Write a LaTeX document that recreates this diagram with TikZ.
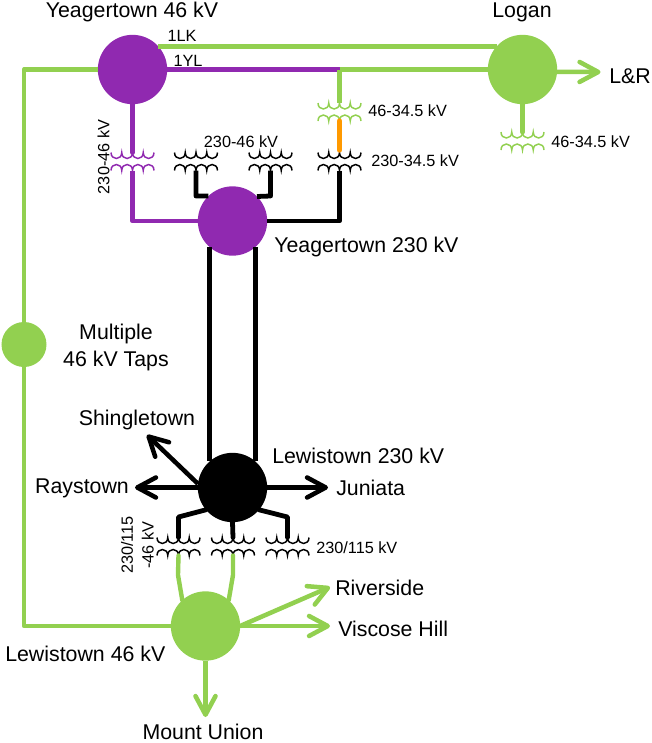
\documentclass[tikz,border=0pt]{standalone}
\usepackage{fontspec}
\setmainfont{Liberation Sans}
\usetikzlibrary{arrows.meta}
\definecolor{gr}{HTML}{92D050}
\definecolor{pu}{HTML}{9029B0}
\definecolor{og}{HTML}{FF9900}
\tikzset{
  x=0.75pt,y=-0.75pt,
  bus/.style={circle,fill=#1,inner sep=0pt,outer sep=0pt,draw=none},
  link/.style={line width=3.6pt,draw=#1,line join=round},
  feed/.style={line width=3.4pt,draw=#1,line join=round,-{Straight Barb[length=14pt,width=15pt,round,line width=3.4pt]}},
  coil/.style={line width=1.1pt,draw=#1},
  xbox/.style={inner sep=0pt,outer sep=0pt,minimum width=33pt,minimum height=13.5pt},
  big/.style={font=\fontsize{16pt}{19pt}\selectfont,inner sep=0pt},
  small/.style={font=\fontsize{12.2pt}{15.5pt}\selectfont,inner sep=0pt,align=center},
}
\newcommand{\xfmr}[4]{%
  \node[xbox] (#1) at (#2,#3) {};
  \draw[coil=#4] (#2-21.5,#3-9) \foreach \k in {1,2,3,4} { .. controls +(0,8) and +(0,8) .. ++(10.75,0) };
  \draw[coil=#4] (#2-21.5,#3+9) \foreach \k in {1,2,3,4} { .. controls +(0,-8) and +(0,-8) .. ++(10.75,0) };
}
\begin{document}
\begin{tikzpicture}
\useasboundingbox (0,0) rectangle (651,743);
% buses
\node[bus=pu,minimum size=52pt] (Y46) at (132.5,69.5) {};
\node[bus=gr,minimum size=52pt] (Log) at (522.5,69.5) {};
\node[bus=pu,minimum size=52pt] (Y230) at (232.5,221) {};
\node[bus=black,minimum size=52pt] (L230) at (232.5,487.5) {};
\node[bus=gr,minimum size=52pt] (L46) at (205.5,626) {};
\node[bus=gr,minimum size=33.75pt] (Tap) at (24,344.5) {};
% transformers
\xfmr{TA}{132.5}{161.5}{pu}
\xfmr{TB}{196}{161.5}{black}
\xfmr{TC}{270.5}{161.5}{black}
\xfmr{TD}{339.5}{161.5}{black}
\xfmr{TE}{339.5}{112}{gr}
\xfmr{TF}{522.5}{141}{gr}
\xfmr{TG}{178.5}{546.5}{black}
\xfmr{TH}{233}{546.5}{black}
\xfmr{TI}{287.5}{546.5}{black}
% coordinates
\coordinate (jct) at (339.5,69.5);
\coordinate (ctl) at (24,69.5);
\coordinate (cbl) at (24,626);
\coordinate (cpa) at (132.5,221);
\coordinate (cba) at (196,196);
\coordinate (cbb) at (270.5,196);
\coordinate (cda) at (339.5,221);
\coordinate (lga) at (178.5,517);
\coordinate (lgc) at (287.5,517);
\coordinate (lgd) at (178,575);
\coordinate (lge) at (233,575);
\coordinate (eJ) at (328,487.5);
\coordinate (eR) at (135,487.5);
\coordinate (eS) at (147,435);
\coordinate (eRv) at (330,587);
\coordinate (eV) at (330,626);
\coordinate (eM) at (205.5,717);
\coordinate (eL) at (600.5,72);
% connectors
\draw[link=gr] (Y46.42) -- (Log.138);
\draw[link=pu,line width=3.1pt] (Y46.east) -- (jct);
\draw[link=gr] (jct) -- (Log.west);
\draw[link=gr] (jct) -- (TE.north);
\draw[link=og,line cap=round,line width=4pt] (339.5,121) -- (339.5,150);
\draw[link=gr] (Y46.west) -- (ctl) -- (Tap.north);
\draw[link=gr] (Tap.south) -- (cbl) -- (L46.west);
\draw[link=gr,line cap=round] (Log.south) -- (TF.north);
\draw[link=pu,line cap=round] (Y46.south) -- (TA.north);
\draw[link=pu] (TA.south) -- (cpa) -- (Y230.west);
\draw[link=black] (TB.south) -- (cba) -- (Y230.134.4);
\draw[link=black] (TC.south) -- (cbb) -- (Y230.45.6);
\draw[link=black] (TD.south) -- (cda) -- (Y230.east);
\draw[link=black] (Y230.-131) -- (L230.131);
\draw[link=black] (Y230.-49) -- (L230.49);
\draw[link=black,line cap=round] (L230.-140) -- (lga) -- (TG.north);
\draw[link=black,line cap=round] (L230.south) -- (TH.north);
\draw[link=black,line cap=round] (L230.-40) -- (lgc) -- (TI.north);
\draw[link=gr,line width=3.3pt,line cap=round] (TG.south) -- (lgd) -- (L46.132);
\draw[link=gr,line width=3.3pt,line cap=round] (TH.south) -- (lge) -- (L46.48);
\draw[feed=black] (L230.east) -- (eJ);
\draw[feed=black] (L230.west) -- (eR);
\draw[feed=black] (L230.174) -- (eS);
\draw[feed=gr] (L46.east) -- (eRv);
\draw[feed=gr] (L46.east) -- (eV);
\draw[feed=gr] (L46.south) -- (eM);
\draw[feed=gr] (Log.-4) -- (eL);
% labels
\node[big] (l1) at (132,12) {Yeagertown 46 kV};
\node[big] (l2) at (522,12) {Logan};
\node[big,anchor=west] (l3) at (609,76) {L\&R};
\node[small] (l4) at (182,36) {1LK};
\node[small] (l5) at (188,61) {1YL};
\node[small,anchor=west] (l6) at (368,110.5) {46-34.5 kV};
\node[small,anchor=west] (l7) at (551,141.5) {46-34.5 kV};
\node[small,anchor=west] (l8) at (371,160.5) {230-34.5 kV};
\node[small] (l9) at (241,141.5) {230-46 kV};
\node[small,rotate=90] (l10) at (103.5,157) {230-46 kV};
\node[big,anchor=west] (l11) at (274,247) {Yeagertown 230 kV};
\node[big] (l12) at (116,334) {Multiple};
\node[big] (l13) at (116,361) {46 kV Taps};
\node[big] (l14) at (137,420) {Shingletown};
\node[big] (l15) at (82,488) {Raystown};
\node[big,anchor=west] (l16) at (336,488) {Juniata};
\node[big,anchor=west] (l17) at (272,456) {Lewistown 230 kV};
\node[small,rotate=90] (l18) at (137.5,545) {230/115\\-46 kV};
\node[small,anchor=west] (l19) at (316,547.5) {230/115 kV};
\node[big,anchor=west] (l20) at (335,588) {Riverside};
\node[big,anchor=west] (l21) at (338,629) {Viscose Hill};
\node[big,anchor=west] (l22) at (5,654) {Lewistown 46 kV};
\node[big] (l23) at (203,732) {Mount Union};
\end{tikzpicture}
\end{document}
